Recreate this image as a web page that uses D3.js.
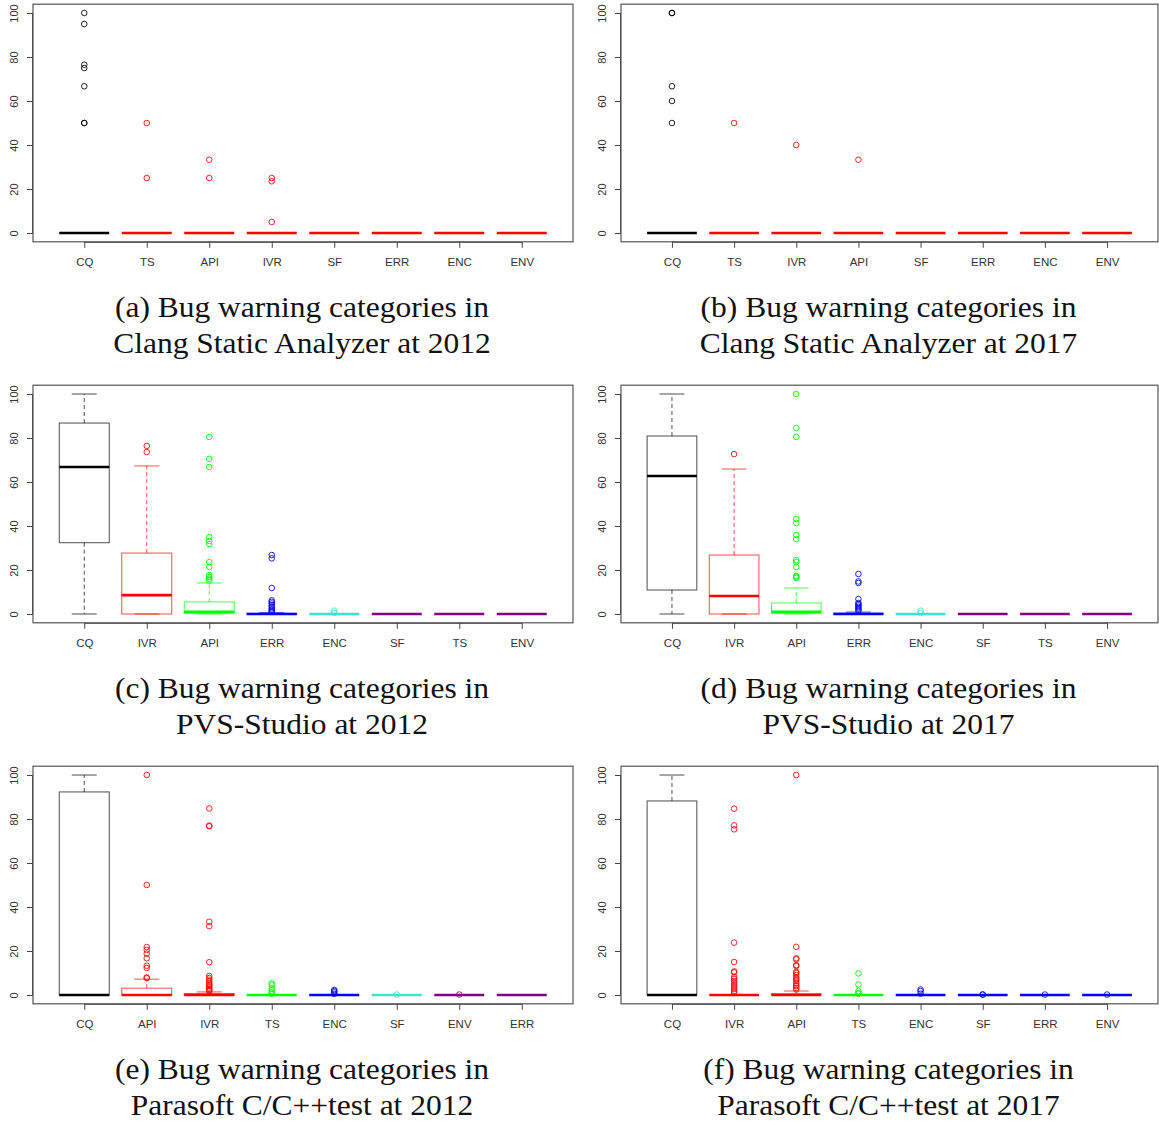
<!DOCTYPE html>
<html>
<head>
<meta charset="utf-8">
<script src="https://d3js.org/d3.v7.min.js"></script>
<style>
  body { margin: 0; background: #fff; }
  svg { display: block; }
</style>
</head>
<body>
<div id="chart"></div>
<script>
// categories / colours / box stats [lower, q1, median, q3, upper] / outliers for each panel
var catsA = ["CQ", "TS", "API", "IVR", "SF", "ERR", "ENC", "ENV"]
var colorsA = ["black", "red", "red", "red", "red", "red", "red", "red"]
var statsA = [[0,0,0,0,0],[0,0,0,0,0],[0,0,0,0,0],[0,0,0,0,0],[0,0,0,0,0],[0,0,0,0,0],[0,0,0,0,0],[0,0,0,0,0]]
var outA = [[100, 95, 76.5, 75, 66.7, 50, 50], [50, 25], [33.3, 25], [25, 23.5, 5], [], [], [], []]

var catsB = ["CQ", "TS", "IVR", "API", "SF", "ERR", "ENC", "ENV"]
var colorsB = ["black", "red", "red", "red", "red", "red", "red", "red"]
var statsB = [[0,0,0,0,0],[0,0,0,0,0],[0,0,0,0,0],[0,0,0,0,0],[0,0,0,0,0],[0,0,0,0,0],[0,0,0,0,0],[0,0,0,0,0]]
var outB = [[100, 100, 66.7, 60, 50], [50], [40], [33.3], [], [], [], []]

var catsC = ["CQ", "IVR", "API", "ERR", "ENC", "SF", "TS", "ENV"]
var colorsC = ["black", "red", "#00ff00", "blue", "turquoise", "purple", "purple", "purple"]
var statsC = [[0,32.4,66.8,86.8,100],[0,0,8.6,27.7,67.3],[0,0.2,1,5.5,14.1],[0,0,0,0.3,0.6],[0,0,0,0,0],[0,0,0,0,0],[0,0,0,0,0],[0,0,0,0,0]]
var outC = [[], [76.4, 73.6],
    [80.5, 70.5, 66.8, 35, 33.2, 31.8, 23.6, 21.4, 17.7, 16.8, 16, 15.2],
    [26.8, 25.3, 11.8, 6.2, 5.5, 4.8, 4, 3.3, 2.6, 2, 1.4, 1],
    [1.5, 0.5], [], [], []]

var catsD = ["CQ", "IVR", "API", "ERR", "ENC", "SF", "TS", "ENV"]
var colorsD = ["black", "red", "#00ff00", "blue", "turquoise", "purple", "purple", "purple"]
var statsD = [[0,10.9,62.7,80.9,100],[0,0,8.2,26.8,65.9],[0,0.2,1,5,11.8],[0,0,0,0.4,0.9],[0,0,0,0,0],[0,0,0,0,0],[0,0,0,0,0],[0,0,0,0,0]]
var outD = [[], [72.7],
    [100, 84.5, 80.5, 43.2, 41.4, 35.9, 34.1, 24.5, 23.6, 21.4, 17.3, 16.8, 16.4],
    [18.2, 14.8, 14.1, 6.8, 5, 4.5, 3.9, 3.2, 2.6, 2, 1.4],
    [1.5, 0.5], [], [], []]

var catsE = ["CQ", "API", "IVR", "TS", "ENC", "SF", "ENV", "ERR"]
var colorsE = ["black", "red", "red", "#00ff00", "blue", "turquoise", "purple", "purple"]
var statsE = [[0,0,0,92.3,100],[0,0,0,3.1,7.2],[0,0,0,0.7,1.4],[0,0,0,0,0],[0,0,0,0,0],[0,0,0,0,0],[0,0,0,0,0],[0,0,0,0,0]]
var outE = [[],
    [100, 50, 21.8, 20.5, 18.8, 16.7, 13.3, 12.3, 8, 7.7],
    [84.8, 77, 76.7, 33.3, 31.3, 14.9, 8.7, 7.7, 6.9, 6, 5.1, 4.5, 4, 3.3, 2.7, 2.2, 1.8],
    [5.3, 4.6, 3, 2, 1.2, 0.5],
    [2.3, 1.8, 1.2, 0.5], [0.2], [0.2], []]

var catsF = ["CQ", "IVR", "API", "TS", "ENC", "SF", "ERR", "ENV"]
var colorsF = ["black", "red", "red", "#00ff00", "blue", "blue", "blue", "blue"]
var statsF = [[0,0,0,88.2,100],[0,0,0,0,0],[0,0,0,0.6,1.8],[0,0,0,0,0],[0,0,0,0,0],[0,0,0,0,0],[0,0,0,0,0],[0,0,0,0,0]]
var outF = [[],
    [84.7, 77.1, 75.3, 23.8, 15, 10.7, 10.3, 8.2, 7.3, 6.4, 5.5, 4.5, 3.6, 2.7, 1.8, 0.9],
    [100, 21.9, 16.7, 16.2, 13.6, 13.2, 10.5, 10, 9.1, 8, 7.3, 6.5, 5.5, 4.5, 4, 3.2, 2.5],
    [9.8, 4.8, 1.8, 1, 0.5],
    [2.5, 1.8, 0.6], [0.3, 0.1], [0.2], [0.2]]

var yTicks = [0, 20, 40, 60, 80, 100]

var captions = [
    ["(a) Bug warning categories in", "Clang Static Analyzer at 2012"],
    ["(b) Bug warning categories in", "Clang Static Analyzer at 2017"],
    ["(c) Bug warning categories in", "PVS-Studio at 2012"],
    ["(d) Bug warning categories in", "PVS-Studio at 2017"],
    ["(e) Bug warning categories in", "Parasoft C/C++test at 2012"],
    ["(f) Bug warning categories in", "Parasoft C/C++test at 2017"]
]

var panels = [
    {cats: catsA, colors: colorsA, stats: statsA, out: outA},
    {cats: catsB, colors: colorsB, stats: statsB, out: outB},
    {cats: catsC, colors: colorsC, stats: statsC, out: outC},
    {cats: catsD, colors: colorsD, stats: statsD, out: outD},
    {cats: catsE, colors: colorsE, stats: statsE, out: outE},
    {cats: catsF, colors: colorsF, stats: statsF, out: outF}
]

var W = 1159, H = 1122
var svg = d3.select("#chart").append("svg").attr("width", W).attr("height", H)

var colX = [[33, 573], [621, 1158]] // plot box left/right per column
var rowTop = 4.2, rowStep = 381, boxH = 237.6

function drawPanel(p, i) {
    var col = i % 2, row = Math.floor(i / 2)
    var left = colX[col][0], right = colX[col][1]
    var top = rowTop + row * rowStep, bottom = top + boxH

    // R style: 4% padding around 0.5..8.5 and 0..100
    var x = d3.scaleLinear().domain([0.18, 8.82]).range([left, right])
    var y = d3.scaleLinear().domain([-4, 104]).range([bottom, top])

    var g = svg.append("g")

    // y axis, rotated labels
    var ya = g.append("g").attr("transform", "translate(" + left + ",0)")
        .call(d3.axisLeft(y).tickValues(yTicks).tickSize(6).tickPadding(0))
    ya.select(".domain").attr("d", "M-0.5," + y(0) + "V" + y(100)).attr("stroke", "#444")
    ya.selectAll(".tick line").attr("stroke", "#444")
    ya.selectAll(".tick text")
        .attr("transform", "rotate(-90)")
        .attr("x", 0).attr("y", -15).attr("dy", null)
        .attr("text-anchor", "middle")
        .style("font-family", "Liberation Sans, Arial, sans-serif")
        .style("font-size", "11px").attr("fill", "#333")

    // x axis
    var xa = g.append("g").attr("transform", "translate(0," + bottom + ")")
        .call(d3.axisBottom(x).tickValues(d3.range(1, 9)).tickSize(6)
            .tickFormat(function(d) { return p.cats[d - 1] }))
    xa.select(".domain").attr("d", "M" + x(1) + ",0.5H" + x(8)).attr("stroke", "#444")
    xa.selectAll(".tick line").attr("stroke", "#444")
    xa.selectAll(".tick text")
        .attr("y", 24.5).attr("dy", null)
        .style("font-family", "Liberation Sans, Arial, sans-serif")
        .style("font-size", "11.5px").attr("fill", "#333")

    // plot box
    g.append("rect")
        .attr("x", left).attr("y", top)
        .attr("width", right - left).attr("height", bottom - top)
        .attr("fill", "none").attr("stroke", "#555").attr("stroke-width", 1.2)

    var bw = (x(1.4) - x(0.6)) // boxwex 0.8
    p.stats.forEach(function(s, j) {
        var cx = x(j + 1), c = p.colors[j]
        var b = g.append("g")
        var thin = b.append("g").attr("stroke", c).attr("stroke-opacity", 0.7)
        // whiskers
        thin.append("line").attr("x1", cx).attr("x2", cx).attr("y1", y(s[3])).attr("y2", y(s[4]))
            .attr("stroke-dasharray", "4,3")
        thin.append("line").attr("x1", cx).attr("x2", cx).attr("y1", y(s[1])).attr("y2", y(s[0]))
            .attr("stroke-dasharray", "4,3")
        // staples
        ;[s[0], s[4]].forEach(function(v) {
            thin.append("line").attr("x1", cx - bw / 4).attr("x2", cx + bw / 4)
                .attr("y1", y(v)).attr("y2", y(v))
        })
        // box
        thin.append("rect").attr("x", cx - bw / 2).attr("y", y(s[3]))
            .attr("width", bw).attr("height", Math.max(0, y(s[1]) - y(s[3])))
            .attr("fill", "none")
        // median
        b.append("line").attr("x1", cx - bw / 2).attr("x2", cx + bw / 2)
            .attr("y1", y(s[2])).attr("y2", y(s[2]))
            .attr("stroke", c).attr("stroke-width", 2.6)
        // outliers
        b.selectAll("circle").data(p.out[j]).enter().append("circle")
            .attr("cx", cx).attr("cy", function(d) { return y(d) })
            .attr("r", 2.8).attr("fill", "none").attr("stroke", c)
            .attr("stroke-opacity", 0.85).attr("stroke-width", 1)
    })

    // caption (stretched a little to match the wider TeX font)
    var capX = (left + right) / 2 - 1
    captions[i].forEach(function(t, k) {
        g.append("text")
            .attr("transform", "translate(" + capX + "," + (bottom + 75 + k * 36) + ") scale(1.105,1)")
            .attr("text-anchor", "middle")
            .style("font-family", "Liberation Serif, Times New Roman, serif")
            .style("font-size", "28.5px").attr("fill", "#111")
            .text(t)
    })
}

panels.forEach(drawPanel)
</script>
</body>
</html>
